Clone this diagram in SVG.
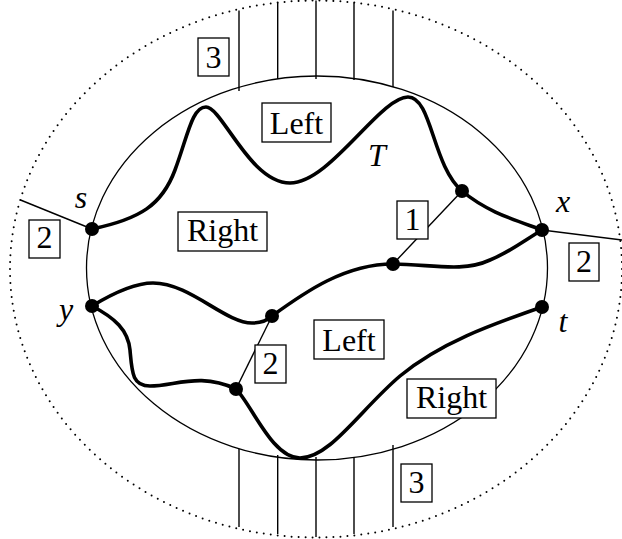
<svg xmlns="http://www.w3.org/2000/svg" width="622" height="539" viewBox="0 0 622 539">
<style>
.bd{fill:none;stroke:#000;stroke-width:1.3}
.thin{fill:none;stroke:#000;stroke-width:1.4}
.thick{fill:none;stroke:#000;stroke-width:3.6;stroke-linecap:round;stroke-linejoin:round}
.dot{fill:#000}
.box{fill:#fff;stroke:#000;stroke-width:1.3}
.lbl{font-family:"Liberation Serif","Times New Roman",serif;font-size:32px;text-anchor:middle;fill:#000}
.it{font-family:"Liberation Serif","Times New Roman",serif;font-size:32px;font-style:italic;text-anchor:middle;fill:#000}
</style>
<rect width="622" height="539" fill="#fff"/>
<g id="boundary">
<ellipse cx="316" cy="269" rx="306" ry="268.5" fill="none" stroke="#000" stroke-width="2" stroke-linecap="round" stroke-dasharray="0 7"/>
<ellipse cx="317" cy="268" rx="230.5" ry="192" class="bd"/>
</g>
<g id="connectors">
<g id="cut-top">
<line x1="239" y1="10.5" x2="239" y2="91" class="thin"/>
<line x1="277.7" y1="2.5" x2="277.7" y2="79" class="thin"/>
<line x1="316" y1="0.5" x2="316" y2="79" class="thin"/>
<line x1="354" y1="2.5" x2="354" y2="80" class="thin"/>
<line x1="393" y1="10.5" x2="393" y2="87" class="thin"/>
</g>
<g id="cut-bottom">
<line x1="239" y1="449" x2="239" y2="527" class="thin"/>
<line x1="277.7" y1="455" x2="277.7" y2="534" class="thin"/>
<line x1="316" y1="457" x2="316" y2="537" class="thin"/>
<line x1="354" y1="457" x2="354" y2="534" class="thin"/>
<line x1="393" y1="445" x2="393" y2="527" class="thin"/>
</g>
<line x1="92" y1="229" x2="20.5" y2="200" class="thin"/>
<line x1="542" y1="230" x2="622" y2="240" class="thin"/>
<line x1="462" y1="191" x2="393" y2="264" class="thin"/>
<line x1="272" y1="316" x2="236" y2="389" class="thin"/>
<path id="T" class="thick" d="M92,229 C140,219 162,205 175,170 C188,135 192,107 206,107 C222,107 250,183 290,183 C330,183 380,97 408,97 C432,97 432,165 462,191 C487,212 515,220 542,230"/>
<path id="mid" class="thick" d="M92,306 C115,292 135,283 153,283 C190,283 225,323 252,323 C262,323 268,320 272,316 C305,292 345,264 393,264 C430,264 462,273 490,260 C510,252 525,240 542,230"/>
<path id="low" class="thick" d="M92,306 C115,318 128,330 130,350 C132,372 132,386 150,386 C175,386 200,372 236,389 C252,405 272,458 300,458 C330,458 360,410 400,376 C440,343 490,325 542,307"/>
</g>
<g id="node-s"><circle cx="92" cy="229" r="7" class="dot"/><text x="81" y="208" class="it">s</text></g>
<g id="node-x"><circle cx="542" cy="230" r="7" class="dot"/><text x="563" y="212" class="it">x</text></g>
<g id="node-y"><circle cx="92" cy="306" r="7" class="dot"/><text x="66" y="320" class="it">y</text></g>
<g id="node-t"><circle cx="542" cy="307" r="7" class="dot"/><text x="563" y="332" class="it">t</text></g>
<g id="node-a"><circle cx="462" cy="191" r="7" class="dot"/></g>
<g id="node-b"><circle cx="393" cy="264" r="7" class="dot"/></g>
<g id="node-c"><circle cx="272" cy="316" r="7" class="dot"/></g>
<g id="node-d"><circle cx="236" cy="389" r="7" class="dot"/></g>
<g id="label-T"><text x="377" y="166" class="it">T</text></g>
<g id="box-3-top"><rect x="198" y="38" width="31" height="38" class="box"/><text x="213.5" y="67.5" class="lbl">3</text></g>
<g id="box-2-left"><rect x="29" y="220" width="31" height="38" class="box"/><text x="44.5" y="248" class="lbl">2</text></g>
<g id="box-right-top"><rect x="178" y="212" width="89" height="39" class="box"/><text x="222.5" y="241" class="lbl">Right</text></g>
<g id="box-left-top"><rect x="262" y="103" width="69" height="39" class="box"/><text x="296.5" y="133.5" class="lbl">Left</text></g>
<g id="box-1"><rect x="397" y="201" width="31" height="38" class="box"/><text x="412.5" y="229.5" class="lbl">1</text></g>
<g id="box-2-right"><rect x="569" y="243" width="30" height="38" class="box"/><text x="584" y="271.5" class="lbl">2</text></g>
<g id="box-2-mid"><rect x="255" y="345" width="31" height="38" class="box"/><text x="270.5" y="373.5" class="lbl">2</text></g>
<g id="box-left-bottom"><rect x="314" y="320" width="70" height="39" class="box"/><text x="349" y="350.5" class="lbl">Left</text></g>
<g id="box-right-bottom"><rect x="407" y="379" width="89" height="39" class="box"/><text x="451.5" y="408" class="lbl">Right</text></g>
<g id="box-3-bottom"><rect x="401" y="464" width="31" height="38" class="box"/><text x="416.5" y="493" class="lbl">3</text></g>
</svg>
